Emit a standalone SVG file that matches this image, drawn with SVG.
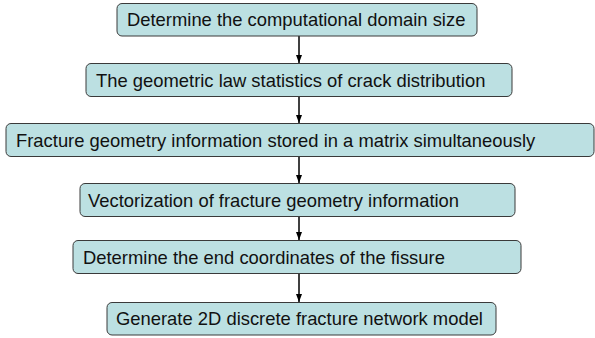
<svg xmlns="http://www.w3.org/2000/svg" width="595" height="338" viewBox="0 0 595 338">
<style>
.box{fill:#BCE0E2;stroke:#3A3A3A;stroke-width:1}
.lbl{font-family:"Liberation Sans",Arial,sans-serif;font-size:18.4px;fill:#111}
.conn{stroke:#000;stroke-width:1.5;fill:none}
</style>
<defs>
<marker id="ah" markerWidth="8" markerHeight="6" refX="8" refY="3" orient="auto" markerUnits="userSpaceOnUse" viewBox="0 0 8 6">
<path d="M0,0 L8,3 L0,6 Z" fill="#000"/>
</marker>
</defs>
<g id="connectors">
<line class="conn" x1="299" y1="36" x2="299" y2="63" marker-end="url(#ah)"/>
<line class="conn" x1="299" y1="97" x2="299" y2="123" marker-end="url(#ah)"/>
<line class="conn" x1="299" y1="157" x2="299" y2="183" marker-end="url(#ah)"/>
<line class="conn" x1="299" y1="217" x2="299" y2="240" marker-end="url(#ah)"/>
<line class="conn" x1="299" y1="274" x2="299" y2="302" marker-end="url(#ah)"/>
</g>
<g id="n1"><rect class="box" x="117" y="3.5" width="360" height="32.5" rx="5"/><text class="lbl" x="127" y="26">Determine the computational domain size</text></g>
<g id="n2"><rect class="box" x="86" y="63.5" width="426" height="33" rx="5"/><text class="lbl" x="96" y="86.5">The geometric law statistics of crack distribution</text></g>
<g id="n3"><rect class="box" x="6" y="123.5" width="588" height="33" rx="5"/><text class="lbl" x="16" y="146.5">Fracture geometry information stored in a matrix simultaneously</text></g>
<g id="n4"><rect class="box" x="80" y="183.5" width="435" height="33" rx="5"/><text class="lbl" x="88" y="206.5">Vectorization of fracture geometry information</text></g>
<g id="n5"><rect class="box" x="73" y="240.5" width="448" height="33" rx="5"/><text class="lbl" x="83" y="263.5">Determine the end coordinates of the fissure</text></g>
<g id="n6"><rect class="box" x="107" y="302.5" width="389" height="32.5" rx="5"/><text class="lbl" x="116" y="325">Generate 2D discrete fracture network model</text></g>
</svg>
